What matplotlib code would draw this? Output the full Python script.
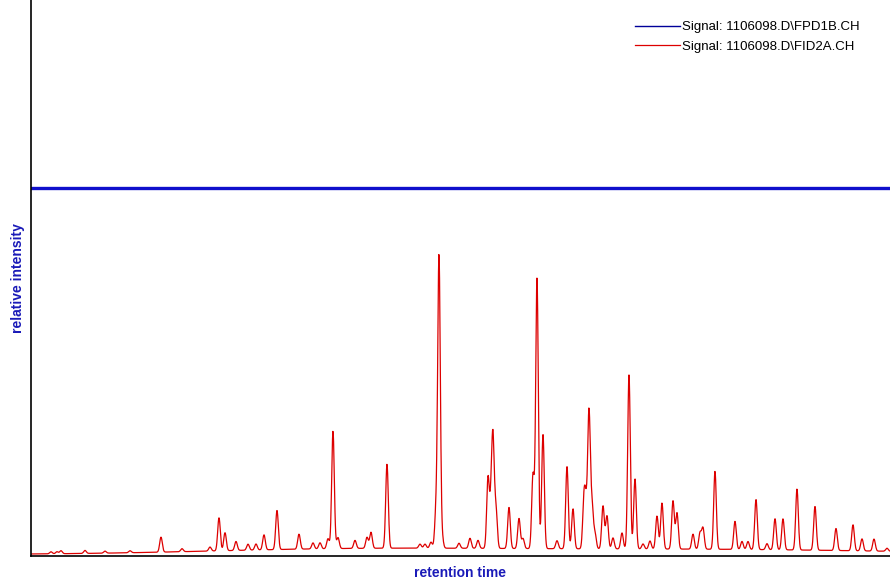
import numpy as np
import matplotlib
matplotlib.use("Agg")
import matplotlib.pyplot as plt

plt.rcParams['font.family'] = ['Liberation Sans', 'DejaVu Sans']

# FID peaks: retention time (a.u.) and height above baseline
peak_rt = [20, 26, 30, 54, 74, 99, 130, 151, 179, 188, 194, 205, 217, 225, 233, 246,
           268, 282, 289, 297, 302, 307, 324, 336, 340, 356, 389, 394, 400, 405, 408,
           411, 428, 439, 447, 457, 460, 462, 465, 478, 488, 492, 502, 506, 512, 526,
           536, 542, 553, 555, 558, 561, 564, 572, 576, 582, 591, 598, 604, 612, 619,
           626, 631, 642, 646, 662, 669, 672, 684, 704, 711, 717, 725, 736, 744, 752,
           766, 784, 805, 822, 831, 843, 856]
peak_height = [2, 2, 3, 3, 2, 2, 15, 3, 4, 33, 18, 9, 6, 6, 15, 39,
               15, 6, 6, 10, 118, 11, 8, 11, 16, 84, 4, 4, 6, 36, 292,
               11, 5, 10, 8, 70, 38, 104, 38, 41, 30, 10, 74, 270, 114, 8,
               82, 40, 48, 36, 136, 42, 15, 43, 33, 11, 16, 174, 70, 5, 8,
               33, 46, 48, 36, 15, 16, 21, 78, 28, 8, 8, 50, 6, 31, 31,
               61, 44, 22, 26, 12, 12, 3]
peak_width = 1.3

# slow baseline drift under the peaks
drift_rt = [320, 670]
drift_height = [5, 5]
drift_width = [150, 200]
baseline_offset = 1.5

# FPD trace level
fpd_level = 368

rt = np.linspace(0, 859, 2400)
fid = np.full_like(rt, baseline_offset)
for c, h, w in zip(drift_rt, drift_height, drift_width):
    fid += h * np.exp(-0.5 * ((rt - c) / w) ** 2)
for c, h in zip(peak_rt, peak_height):
    fid += h * np.exp(-0.5 * ((rt - c) / peak_width) ** 2)

fig = plt.figure(figsize=(8.9, 5.85), dpi=100)
ax = fig.add_axes([31 / 890, 29 / 585, 859 / 890, 556 / 585])

ax.plot([0, 859], [fpd_level, fpd_level], color='#1010cc', lw=2.4,
        label='Signal: 1106098.D\\FPD1B.CH')
ax.plot(rt, fid, color='#dd0000', lw=0.9, label='Signal: 1106098.D\\FID2A.CH')

ax.set_xlim(0, 859)
ax.set_ylim(0, 556)
ax.set_xticks([])
ax.set_yticks([])
for s in ['top', 'right']:
    ax.spines[s].set_visible(False)
for s in ['left', 'bottom']:
    ax.spines[s].set_linewidth(1.2)

ax.set_xlabel('retention time', color='#1a1ab8', fontweight='bold', fontsize=10, labelpad=7)
ax.set_ylabel('relative intensity', color='#1a1ab8', fontweight='bold', fontsize=10, labelpad=4)

leg = ax.legend(loc='upper right', bbox_to_anchor=(0.965, 0.962), frameon=False, fontsize=9.5,
                handlelength=3.4, handletextpad=0.15, labelspacing=0.55,
                borderaxespad=0, borderpad=0)
leg.get_lines()[0].set_color('#000099')
leg.get_lines()[0].set_linewidth(1.0)

fig.savefig('out.png', dpi=100)
